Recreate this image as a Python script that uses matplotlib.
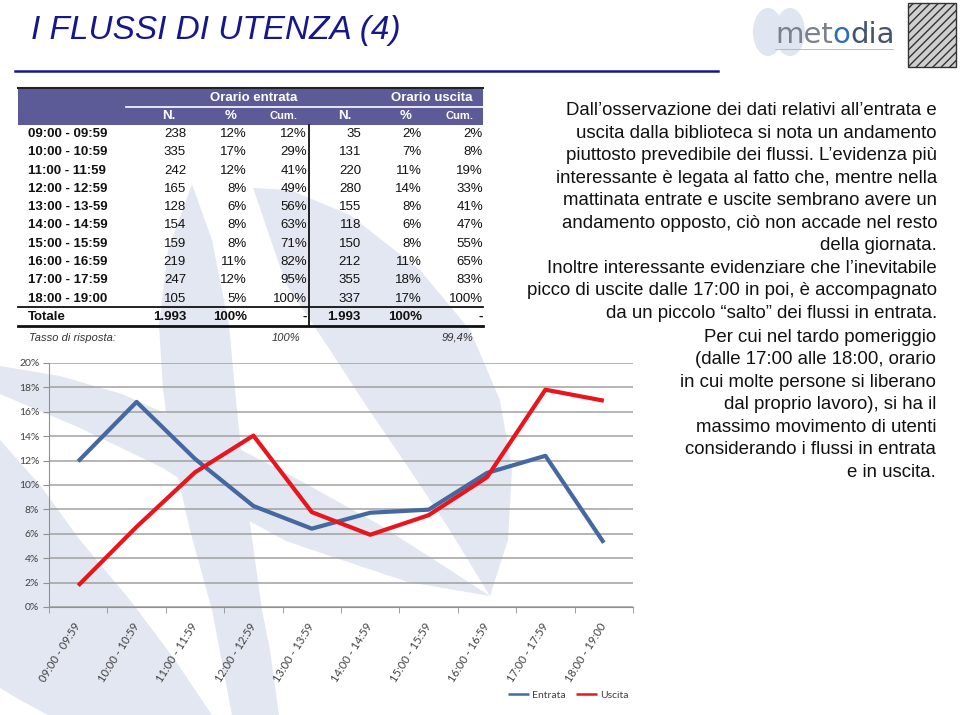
import matplotlib
matplotlib.use('Agg')
import matplotlib.pyplot as plt
from matplotlib.patches import Polygon, Rectangle, Ellipse
import numpy as np

# table / chart data
fasce = ['09:00 - 09:59', '10:00 - 10:59', '11:00 - 11:59', '12:00 - 12:59', '13:00 - 13-59',
         '14:00 - 14:59', '15:00 - 15:59', '16:00 - 16:59', '17:00 - 17:59', '18:00 - 19:00']
fasce_asse = ['09:00 - 09:59', '10:00 - 10:59', '11:00 - 11:59', '12:00 - 12:59', '13:00 - 13:59',
              '14:00 - 14:59', '15:00 - 15:59', '16:00 - 16:59', '17:00 - 17:59', '18:00 - 19:00']
entrata_n = [238, 335, 242, 165, 128, 154, 159, 219, 247, 105]
entrata_pct = ['12%', '17%', '12%', '8%', '6%', '8%', '8%', '11%', '12%', '5%']
entrata_cum = ['12%', '29%', '41%', '49%', '56%', '63%', '71%', '82%', '95%', '100%']
uscita_n = [35, 131, 220, 280, 155, 118, 150, 212, 355, 337]
uscita_pct = ['2%', '7%', '11%', '14%', '8%', '6%', '8%', '11%', '18%', '17%']
uscita_cum = ['2%', '8%', '19%', '33%', '41%', '47%', '55%', '65%', '83%', '100%']
totale = 1993
totale_label = '1.993'
tasso_entrata = '100%'
tasso_uscita = '99,4%'

testo1 = ["Dall\u2019osservazione dei dati relativi all\u2019entrata e",
          "uscita dalla biblioteca si nota un andamento",
          "piuttosto prevedibile dei flussi. L\u2019evidenza più",
          "interessante è legata al fatto che, mentre nella",
          "mattinata entrate e uscite sembrano avere un",
          "andamento opposto, ciò non accade nel resto",
          "della giornata.",
          "Inoltre interessante evidenziare che l\u2019inevitabile",
          "picco di uscite dalle 17:00 in poi, è accompagnato",
          "da un piccolo \u201csalto\u201d dei flussi in entrata."]
testo2 = ["Per cui nel tardo pomeriggio",
          "(dalle 17:00 alle 18:00, orario",
          "in cui molte persone si liberano",
          "dal proprio lavoro), si ha il",
          "massimo movimento di utenti",
          "considerando i flussi in entrata",
          "e in uscita."]

W, H = 960, 715
fig = plt.figure(figsize=(9.6, 7.15), dpi=100)
bg = fig.add_axes([0, 0, 1, 1])
bg.set_xlim(0, W)
bg.set_ylim(H, 0)
bg.axis('off')

# watermark shapes
wm = '#e3e7f1'
shapes = [
    [(0, 366), (60, 376), (122, 394), (204, 431), (290, 475), (380, 525), (450, 570), (490, 596),
     (408, 582), (330, 556), (286, 541), (220, 505), (163, 468), (80, 428), (0, 394)],
    [(253, 188), (286, 284), (330, 350), (367, 407), (410, 470), (449, 529), (490, 596),
     (508, 540), (512, 470), (500, 400), (470, 330), (420, 270), (350, 215), (290, 190)],
    [(192, 184), (168, 250), (159, 325), (163, 390), (171, 447), (190, 530), (212, 610), (232, 715),
     (279, 715), (270, 650), (262, 610), (245, 488), (236, 400), (229, 325), (212, 240)],
    [(0, 440), (40, 485), (80, 540), (130, 600), (175, 660), (212, 715), (48, 715), (20, 700), (0, 688)],
]
for s in shapes:
    bg.add_patch(Polygon(s, closed=True, facecolor=wm, edgecolor='none', zorder=0))

# title
navy = '#17178c'
bg.text(31, 31, 'I FLUSSI DI UTENZA (4)', fontsize=24, style='italic', color=navy,
        family='Liberation Sans', ha='left', va='center')
bg.plot([15, 718], [70.5, 70.5], color=navy, lw=1.8)

# logo
bg.add_patch(Ellipse((768, 32), 30, 48, facecolor='#dfe6f2', edgecolor='none'))
bg.add_patch(Ellipse((790, 32), 30, 48, facecolor='#dfe6f2', edgecolor='none'))
renderer = fig.canvas.get_renderer()
xpos = 775
for part, col in [('met', '#7a808c'), ('o', '#2f6db5'), ('dia', '#44536b')]:
    t = bg.text(xpos, 43, part, fontsize=21, color=col, family='DejaVu Sans',
                ha='left', va='baseline')
    bb = t.get_window_extent(renderer=renderer)
    xpos += bb.width
bg.plot([775, 893], [49, 49], color='#b0b4bc', lw=0.6)
bg.add_patch(Rectangle((908, 3), 48, 64, facecolor='#cfcfcf', edgecolor='#333333', lw=1.0,
                       hatch='////'))

# table
band = '#5d5b97'
bg.add_patch(Rectangle((18, 88), 465, 37, facecolor=band, edgecolor='none', zorder=1))
bg.plot([18, 483], [88, 88], color='#222222', lw=1.5, zorder=2)
bg.plot([126, 483], [107, 107], color='white', lw=1.2, zorder=2)
hfont = dict(fontsize=9.5, fontweight='bold', color='white', family='Liberation Sans', zorder=3)
bg.text(254, 98, 'Orario entrata', ha='center', va='center', **hfont)
bg.text(432, 98, 'Orario uscita', ha='center', va='center', **hfont)
for x, t in zip([169, 231, 284, 345, 406, 460], ['N.', '%', 'Cum.', 'N.', '%', 'Cum.']):
    f = dict(hfont)
    if t == 'Cum.':
        f['fontsize'] = 8
    bg.text(x, 116, t, ha='center', va='center', **f)

cols = [186, 247, 307, 361, 422, 483]
rfont = dict(fontsize=9.5, family='Liberation Sans', color='#111111', zorder=3)
for i, lab in enumerate(fasce):
    y = 134 + i * 18.3
    bg.text(28, y, lab, ha='left', va='center', fontweight='bold', **rfont)
    vals = [str(entrata_n[i]), entrata_pct[i], entrata_cum[i],
            str(uscita_n[i]), uscita_pct[i], uscita_cum[i]]
    for x, v in zip(cols, vals):
        bg.text(x, y, v, ha='right', va='center', **rfont)
bg.plot([18, 483], [306.5, 306.5], color='#111111', lw=1.3, zorder=2)
ytot = 317
bg.text(28, ytot, 'Totale', ha='left', va='center', fontweight='bold', **rfont)
for x, v in zip(cols, [totale_label, '100%', '-', totale_label, '100%', '-']):
    bg.text(x, ytot, v, ha='right', va='center', fontweight='bold', **rfont)
bg.plot([18, 483], [326, 326], color='#111111', lw=2.0, zorder=2)
bg.plot([308.5, 308.5], [125, 326], color='#111111', lw=1.3, zorder=2)
tfont = dict(fontsize=8, style='italic', family='Liberation Sans', color='#333333', zorder=3)
bg.text(29, 338, 'Tasso di risposta:', ha='left', va='center', **tfont)
bg.text(300, 338, tasso_entrata, ha='right', va='center', **tfont)
bg.text(473, 338, tasso_uscita, ha='right', va='center', **tfont)

# right-hand text
for i, line in enumerate(testo1):
    bg.text(937, 110.7 + i * 22.5, line, ha='right', va='center', fontsize=13.4,
            family='Liberation Sans', color='#111111')
for i, line in enumerate(testo2):
    bg.text(936, 337 + i * 22.6, line, ha='right', va='center', fontsize=13.4,
            family='Liberation Sans', color='#111111')

# line chart
ax = fig.add_axes([49 / W, 1 - 607 / H, (633 - 49) / W, (607 - 363) / H])
ax.patch.set_alpha(0)
x = np.arange(len(fasce_asse))
ent = np.array(entrata_n) / totale * 100
usc = np.array(uscita_n) / totale * 100
ax.plot(x, ent, color='#44689f', lw=3, label='Entrata', zorder=3, solid_capstyle='butt')
ax.plot(x, usc, color='#e8151c', lw=3, label='Uscita', zorder=3, solid_capstyle='butt')
ax.set_xlim(-0.5, len(x) - 0.5)
ax.set_ylim(0, 20)
ax.set_yticks(range(0, 21, 2))
ax.set_yticklabels([f'{v}%' for v in range(0, 21, 2)], fontsize=7.5, family='Lato', color='#404040')
ax.yaxis.grid(True, color='#a0a0a0', lw=1.1)
ax.set_axisbelow(True)
ax.tick_params(axis='y', length=4, color='#909090', pad=3)
ax.set_xticks(x)
ax.set_xticklabels(fasce_asse, rotation=58, ha='right', va='center', rotation_mode='anchor',
                   fontsize=8, family='Lato', color='#404040')
ax.tick_params(axis='x', which='major', length=0, pad=12)
ax.set_xticks(np.arange(-0.5, len(x), 1), minor=True)
ax.tick_params(axis='x', which='minor', length=4, color='#909090')
for s in ['top', 'right']:
    ax.spines[s].set_visible(False)
for s in ['left', 'bottom']:
    ax.spines[s].set_color('#909090')

leg = ax.legend(loc='center', bbox_to_anchor=(568 / W, 1 - 695 / H),
                bbox_transform=fig.transFigure, ncol=2, frameon=False,
                handlelength=2.0, handletextpad=0.3, columnspacing=1.0,
                prop={'family': 'Lato', 'size': 7.5})
for t in leg.get_texts():
    t.set_color('#404040')
for h in leg.get_lines():
    h.set_linewidth(1.8)

fig.savefig('out.png', dpi=100)
